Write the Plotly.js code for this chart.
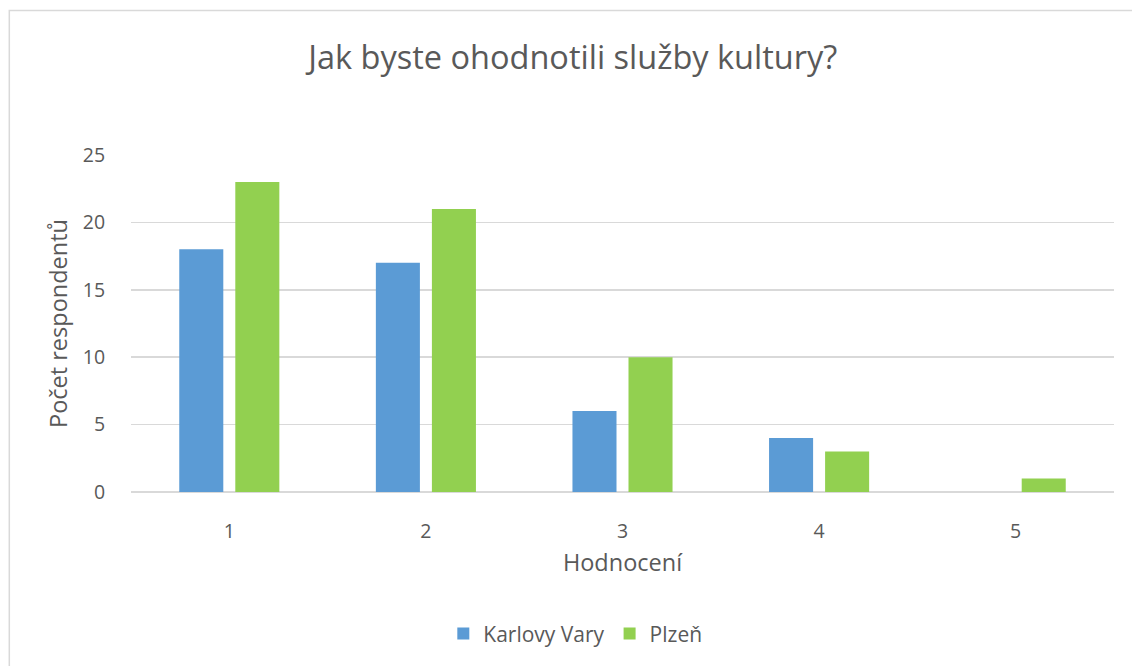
<!DOCTYPE html>
<html>
<head>
<meta charset="utf-8">
<script src="https://cdn.plot.ly/plotly-3.0.1.min.js"></script>
<style>html,body{margin:0;padding:0;background:#fff;}#chart{width:1132px;height:666px;}</style>
</head>
<body>
<div id="chart"></div>
<script>
const categories = ["1", "2", "3", "4", "5"];
const seriesNames = ["Karlovy Vary", "Plzeň"];
const karlovyVary = [18, 17, 6, 4, 0];
const plzen = [23, 21, 10, 3, 1];
const yTicks = [0, 5, 10, 15, 20, 25];

const font = "'Open Sans', sans-serif";
const grey = "#595959";

const traces = [
  {type: "bar", name: seriesNames[0], x: categories, y: karlovyVary, marker: {color: "#5b9bd5"}, hoverinfo: "x+y+name"},
  {type: "bar", name: seriesNames[1], x: categories, y: plzen, marker: {color: "#92d050"}, hoverinfo: "x+y+name"}
];

const layout = {
  width: 1132, height: 666,
  margin: {l: 131, r: 18, t: 155, b: 174, pad: 0},
  paper_bgcolor: "#ffffff", plot_bgcolor: "#ffffff",
  font: {family: font, color: grey},
  title: {text: "Jak byste ohodnotili služby kultury?", font: {family: font, size: 32.5, color: grey}, x: 0.506, xanchor: "center", y: 0.914, yanchor: "middle"},
  barmode: "group", bargap: 0.43, bargroupgap: 0.214,
  xaxis: {type: "category", title: {text: "Hodnocení", font: {size: 23.5, color: grey}, standoff: 11}, tickfont: {size: 19.5, color: grey}, showgrid: false, zeroline: false, showline: false, ticks: "outside", ticklen: 22, tickcolor: "rgba(0,0,0,0)"},
  yaxis: {range: [0, 25], tickvals: yTicks, title: {text: "Počet respondentů", font: {size: 23.5, color: grey}, standoff: 8}, tickfont: {size: 19.5, color: grey}, gridcolor: "#d9d9d9", gridwidth: 1.5, zeroline: true, zerolinecolor: "#d9d9d9", zerolinewidth: 1.5, showline: false, ticks: "outside", ticklen: 21, tickcolor: "rgba(0,0,0,0)"},
  showlegend: true,
  legend: {orientation: "h", x: 0.452, xanchor: "center", y: -0.421, yanchor: "middle", font: {size: 21, color: grey}, itemwidth: 30, traceorder: "normal"},
  shapes: [{type: "rect", xref: "paper", yref: "paper", x0: -0.1238, x1: 1.05, y0: 1.4288, y1: -0.7, line: {color: "#d9d9d9", width: 1.5}, fillcolor: "rgba(0,0,0,0)", layer: "below"}]
};

Plotly.newPlot("chart", traces, layout, {displayModeBar: false, staticPlot: true});
</script>
</body>
</html>
